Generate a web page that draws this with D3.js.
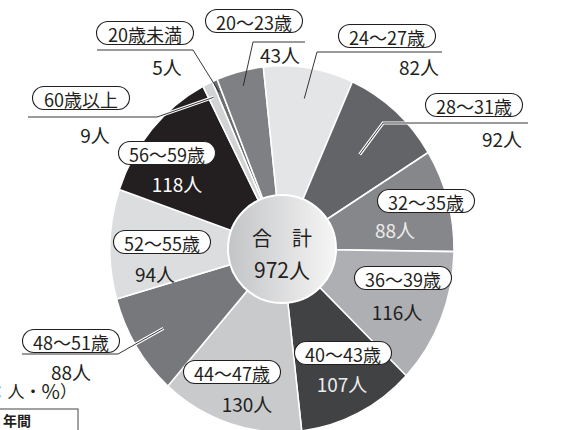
<!DOCTYPE html>
<html>
<head>
<meta charset="utf-8">
<script src="https://cdn.jsdelivr.net/npm/d3@7"></script>
<style>
  body { margin: 0; background: #fff; }
  svg { display: block; }
  text { font-family: "Noto Sans CJK JP", "Noto Sans", sans-serif; }
</style>
</head>
<body>
<svg id="chart" width="569" height="430"></svg>
<script>
// Age groups and headcounts
const ageGroups = ["20歳未満", "20～23歳", "24～27歳", "28～31歳", "32～35歳", "36～39歳",
                   "40～43歳", "44～47歳", "48～51歳", "52～55歳", "56～59歳", "60歳以上"];
const counts = [5, 43, 82, 92, 88, 116, 107, 130, 88, 94, 118, 9];
const unitSuffix = "人";
const totalTitle = "合　計";
const unitNote = ["（単位：人・", "%", "）"];

// Slice fills and value text colours
const sliceColors = ["#6e6f71", "#7f8083", "#e4e5e6", "#636467", "#86878a", "#aeafb2",
                     "#414244", "#c9cacc", "#77787b", "#dcdddf", "#231f20", "#d2d3d5"];
const valueColors = ["#231f20", "#231f20", "#231f20", "#231f20", "#ececec", "#231f20",
                     "#ececec", "#231f20", "#231f20", "#231f20", "#ffffff", "#231f20"];

// Label placement: pill centre, value text, leader elbow points, anchor radius
const labelLayout = [
  { pill: [145, 33], value: [167, 66], leader: [[97, 50], [193, 50]], anchorR: 160 },
  { pill: [254, 21], value: [280, 54], leader: [[305, 42], [253, 42]], anchorR: 158 },
  { pill: [387, 36], value: [419, 66], leader: [[442, 52], [317, 52]], anchorR: 143 },
  { pill: [474, 105], value: [502, 138], leader: [[528, 123], [383, 123]], anchorR: 118, casing: true },
  { pill: [426, 201], value: [395, 229] },
  { pill: [403, 278], value: [397, 311] },
  { pill: [343, 353], value: [342, 383] },
  { pill: [232, 372], value: [247, 403] },
  { pill: [71, 341], value: [71, 371], leader: [[22, 354], [118, 354]], anchorR: 140, casing: true },
  { pill: [162, 242], value: [155, 273] },
  { pill: [167, 153], value: [177, 183] },
  { pill: [81, 98], value: [95, 134], leader: [[28, 117], [157, 117]], anchorR: 158, casing: true }
];

const svg = d3.select("#chart");
const cx = 282, cy = 249;
const outerR = 172, innerR = 54;
const stretchY = 1.065;          // the printed pie is slightly taller than wide
const start = -24 * Math.PI / 180;

const pie = d3.pie().sort(null).value(d => d)
  .startAngle(start).endAngle(start + 2 * Math.PI);
const arcs = pie(counts);
const arc = d3.arc().innerRadius(0).outerRadius(outerR);

const defs = svg.append("defs");
const grad = defs.append("linearGradient").attr("id", "centerGrad")
  .attr("x1", "0%").attr("x2", "100%").attr("y1", "0%").attr("y2", "0%");
grad.append("stop").attr("offset", "0%").attr("stop-color", "#c3c4c6");
grad.append("stop").attr("offset", "100%").attr("stop-color", "#f6f6f6");

const g = svg.append("g").attr("transform", `translate(${cx},${cy})`);

g.append("g")
  .attr("transform", `scale(1,${stretchY})`)
  .selectAll("path.slice")
  .data(arcs)
  .join("path")
  .attr("class", "slice")
  .attr("d", arc)
  .attr("fill", (d, i) => sliceColors[i])
  .attr("stroke", "#fff")
  .attr("stroke-width", 1.5)
  .attr("stroke-linejoin", "round");

// centre disc
g.append("circle")
  .attr("r", innerR)
  .attr("fill", "url(#centerGrad)")
  .attr("stroke", "#fff")
  .attr("stroke-width", 2);

g.append("text")
  .attr("y", -12)
  .attr("text-anchor", "middle")
  .attr("dominant-baseline", "central")
  .attr("font-size", 20)
  .attr("fill", "#231f20")
  .text(totalTitle);

g.append("text")
  .attr("y", 20)
  .attr("text-anchor", "middle")
  .attr("dominant-baseline", "central")
  .attr("font-size", 21)
  .attr("fill", "#231f20")
  .text(d3.sum(counts) + unitSuffix);

// point inside a slice, in page coordinates
const anchorPoint = (d, r) => {
  const a = (d.startAngle + d.endAngle) / 2;
  return [cx + r * Math.sin(a), cy - r * Math.cos(a) * stretchY];
};

const line = d3.line();
const labels = svg.append("g");

arcs.forEach((d, i) => {
  const lay = labelLayout[i];
  if (lay.leader) {
    const pts = [anchorPoint(d, lay.anchorR), lay.leader[1], lay.leader[0]];
    if (lay.casing) {
      labels.append("path")
        .attr("d", line(pts))
        .attr("fill", "none")
        .attr("stroke", "#fff")
        .attr("stroke-width", 3.2);
    }
    labels.append("path")
      .attr("d", line(pts))
      .attr("fill", "none")
      .attr("stroke", "#231f20")
      .attr("stroke-width", 0.9);
  }

  const pw = 97, ph = 23;
  labels.append("rect")
    .attr("x", lay.pill[0] - pw / 2)
    .attr("y", lay.pill[1] - ph / 2)
    .attr("width", pw)
    .attr("height", ph)
    .attr("rx", ph / 2)
    .attr("fill", "#fff")
    .attr("stroke", "#231f20")
    .attr("stroke-width", 1.1);

  labels.append("text")
    .attr("x", lay.pill[0])
    .attr("y", lay.pill[1] + 1)
    .attr("text-anchor", "middle")
    .attr("dominant-baseline", "central")
    .attr("font-size", 18)
    .attr("fill", "#231f20")
    .text(ageGroups[i]);

  labels.append("text")
    .attr("x", lay.value[0])
    .attr("y", lay.value[1])
    .attr("text-anchor", "middle")
    .attr("dominant-baseline", "central")
    .attr("font-size", 19)
    .attr("fill", valueColors[i])
    .text(counts[i] + unitSuffix);
});

// unit note and the clipped table below it
const note = svg.append("text")
  .attr("x", 77)
  .attr("y", 390)
  .attr("text-anchor", "end")
  .attr("dominant-baseline", "central")
  .attr("font-size", 17)
  .attr("fill", "#231f20");
note.append("tspan").text(unitNote[0]);
note.append("tspan").attr("font-size", 20).text(unitNote[1]);
note.append("tspan").text(unitNote[2]);

svg.append("rect")
  .attr("x", -1).attr("y", 409)
  .attr("width", 79).attr("height", 40)
  .attr("fill", "none")
  .attr("stroke", "#444")
  .attr("stroke-width", 1);

svg.append("text")
  .attr("x", 3).attr("y", 420)
  .attr("dominant-baseline", "central")
  .attr("font-size", 14)
  .attr("font-weight", "bold")
  .attr("fill", "#231f20")
  .text("年間");

svg.append("text")
  .attr("x", -6).attr("y", 436)
  .attr("dominant-baseline", "central")
  .attr("font-size", 14)
  .attr("font-weight", "bold")
  .attr("fill", "#231f20")
  .text("比（率）");
</script>
</body>
</html>
